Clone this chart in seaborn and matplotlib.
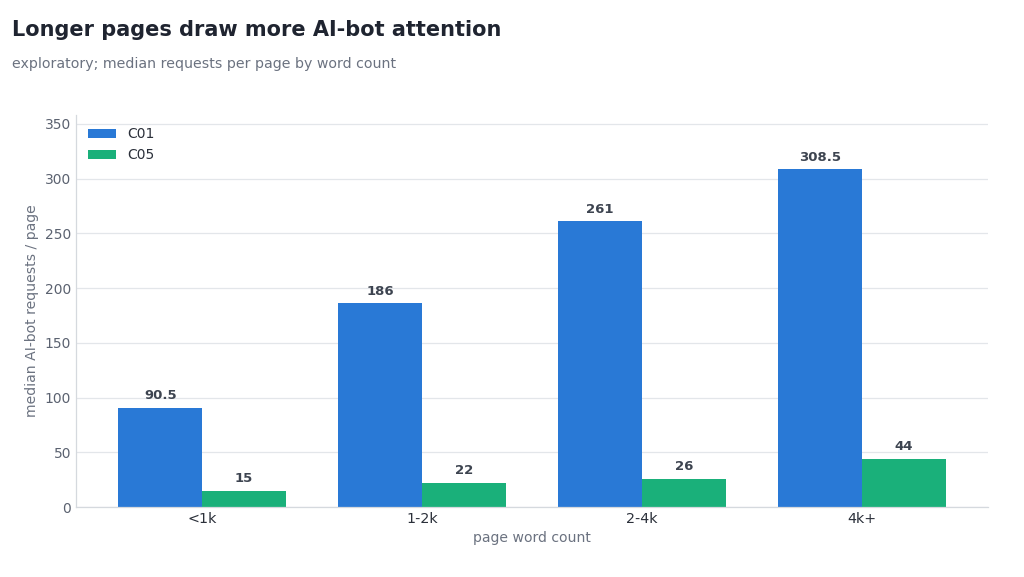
import numpy as np
import pandas as pd
import matplotlib
matplotlib.use('Agg')
import matplotlib.pyplot as plt
import seaborn as sns

categories = ['<1k', '1-2k', '2-4k', '4k+']
c01 = [90.5, 186, 261, 308.5]
c05 = [15, 22, 26, 44]
series = ['C01', 'C05']

df = pd.DataFrame({
    'bucket': categories * 2,
    'series': ['C01'] * 4 + ['C05'] * 4,
    'value': c01 + c05,
})

sns.set_theme(style='white')
plt.rcParams['font.family'] = ['DejaVu Sans']

fig = plt.figure(figsize=(10.24, 5.77), dpi=100)
ax = fig.add_axes([0.0742, 0.1213, 0.8906, 0.6794])

palette = {'C01': '#2979d6', 'C05': '#1ab07a'}
sns.barplot(data=df, x='bucket', y='value', hue='series', hue_order=series,
            order=categories, palette=palette, width=0.76, saturation=1,
            linewidth=0, ax=ax, legend=True)

for cont in ax.containers:
    labels = ['%g' % v for v in cont.datavalues]
    ax.bar_label(cont, labels=labels, padding=4, fontsize=9.5, fontweight='bold', color='#3d4450')

ax.set_xlim(-0.573, 3.573)
ax.set_ylim(0, 358)
ax.set_yticks([0, 50, 100, 150, 200, 250, 300, 350])
ax.yaxis.grid(True, color='#e3e6ea', linewidth=0.9)
ax.set_axisbelow(True)
for s in ['top', 'right']:
    ax.spines[s].set_visible(False)
for s in ['left', 'bottom']:
    ax.spines[s].set_color('#d5d9de')
    ax.spines[s].set_linewidth(0.9)
ax.tick_params(axis='both', length=0, labelsize=10, colors='#5b6270')
ax.tick_params(axis='x', colors='#2b303a', labelsize=10.3)
ax.set_xlabel('page word count', fontsize=10.1, color='#6b7280', labelpad=4)
ax.set_ylabel('median AI-bot requests / page', fontsize=10.1, color='#6b7280', labelpad=4)

leg = ax.legend(loc='upper left', frameon=False, fontsize=10, handlelength=2.0,
                handleheight=0.7, borderaxespad=0.5, labelspacing=0.5)
for t in leg.get_texts():
    t.set_color('#2b303a')

fig.text(0.0117, 0.948, 'Longer pages draw more AI-bot attention', fontsize=15,
         fontweight='bold', color='#1f2430', va='center')
fig.text(0.0117, 0.889, 'exploratory; median requests per page by word count', fontsize=10.2,
         color='#6b7280', va='center')

fig.savefig('out.png', dpi=100)
